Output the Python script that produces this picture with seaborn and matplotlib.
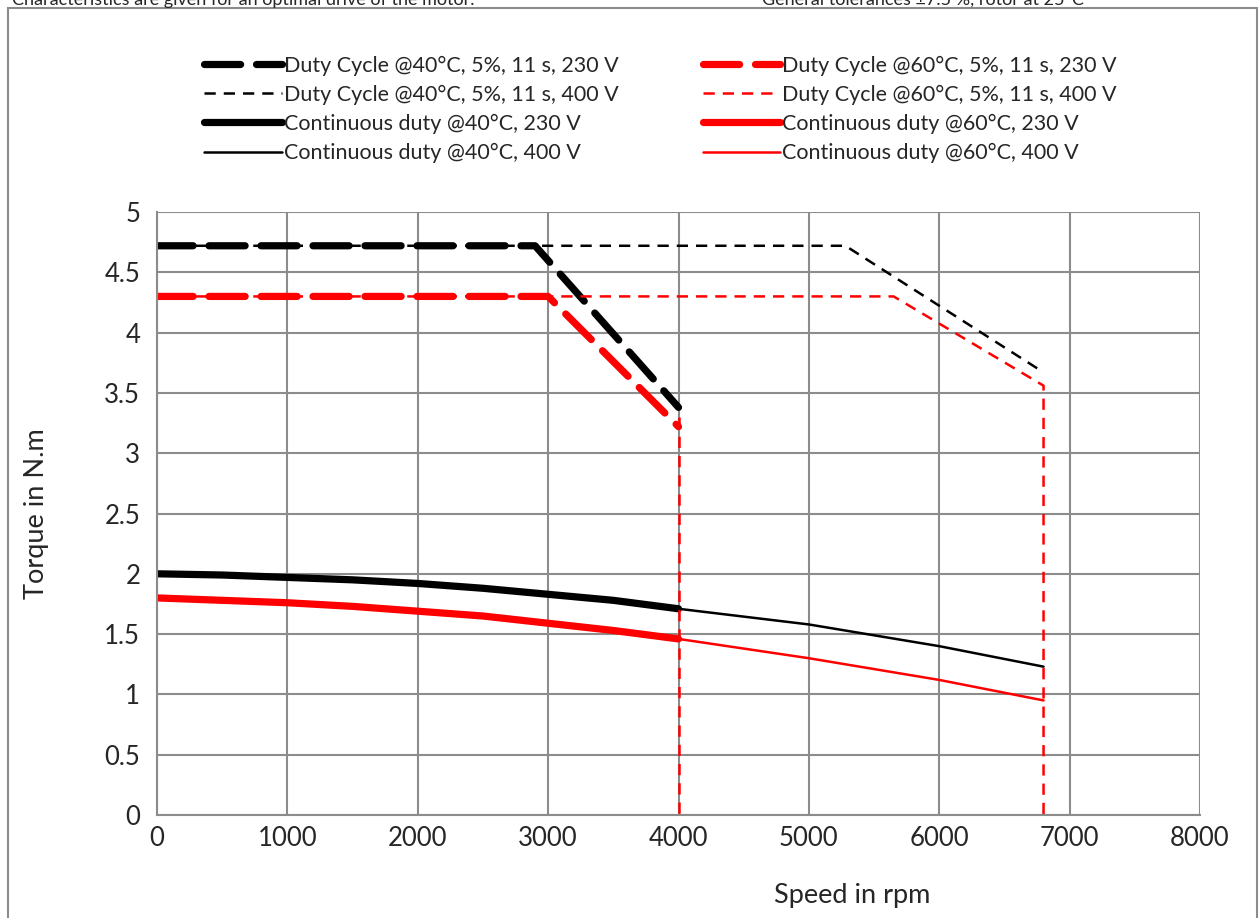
import matplotlib
matplotlib.use('Agg')
import matplotlib.pyplot as plt
from matplotlib.patches import Rectangle
import pandas as pd
import seaborn as sns

# duty cycle curves (speed rpm, torque N.m)
duty40_230_x = [0, 2900, 4000]
duty40_230_y = [4.72, 4.72, 3.38]
duty40_400_x = [0, 5280, 6800]
duty40_400_y = [4.72, 4.72, 3.67]
duty60_230_x = [0, 3000, 4000]
duty60_230_y = [4.30, 4.30, 3.22]
duty60_400_x = [0, 5650, 6800, 6800]
duty60_400_y = [4.30, 4.30, 3.56, 0]
limit230_x = [4000, 4000]
limit230_y = [3.30, 0]

# continuous duty curves
cont230_x = [0, 500, 1000, 1500, 2000, 2500, 3000, 3500, 4000]
cont40_230_y = [2.00, 1.99, 1.97, 1.95, 1.92, 1.88, 1.83, 1.78, 1.71]
cont60_230_y = [1.80, 1.78, 1.76, 1.73, 1.69, 1.65, 1.59, 1.53, 1.46]
cont400_x = [4000, 5000, 6000, 6800]
cont40_400_y = [1.71, 1.58, 1.40, 1.23]
cont60_400_y = [1.46, 1.30, 1.12, 0.95]

x_ticks = [0, 1000, 2000, 3000, 4000, 5000, 6000, 7000, 8000]
y_ticks = [0, 0.5, 1, 1.5, 2, 2.5, 3, 3.5, 4, 4.5, 5]

sns.set_style('white')
plt.rcParams['font.family'] = ['Lato', 'DejaVu Sans']

fig = plt.figure(figsize=(12.59, 9.18), dpi=100)
ax = fig.add_axes([157 / 1259, 103 / 918, 1043 / 1259, 603 / 918])

thick_dash = dict(lw=5.2, dashes=(5, 2.2), dash_capstyle='round')
thin_dash = dict(lw=1.8, dashes=(4.5, 3.2))
thick = dict(lw=5.2, solid_capstyle='round')
thin = dict(lw=1.8)

series = [
    (duty40_230_x, duty40_230_y, 'black', thick_dash, 'Duty Cycle @40°C, 5%, 11 s, 230 V'),
    (duty40_400_x, duty40_400_y, 'black', thin_dash, 'Duty Cycle @40°C, 5%, 11 s, 400 V'),
    (cont230_x, cont40_230_y, 'black', thick, 'Continuous duty @40°C, 230 V'),
    (cont400_x, cont40_400_y, 'black', thin, 'Continuous duty @40°C, 400 V'),
    (duty60_230_x, duty60_230_y, 'red', thick_dash, 'Duty Cycle @60°C, 5%, 11 s, 230 V'),
    (duty60_400_x, duty60_400_y, 'red', thin_dash, 'Duty Cycle @60°C, 5%, 11 s, 400 V'),
    (cont230_x, cont60_230_y, 'red', thick, 'Continuous duty @60°C, 230 V'),
    (cont400_x, cont60_400_y, 'red', thin, 'Continuous duty @60°C, 400 V'),
]

handles = []
for xs, ys, color, style, label in series:
    df = pd.DataFrame({'x': xs, 'y': ys})
    sns.lineplot(data=df, x='x', y='y', sort=False, estimator=None,
                 color=color, ax=ax, **style)
    handles.append((ax.lines[-1], label))

# vertical speed limit at 4000 rpm
sns.lineplot(x=limit230_x, y=limit230_y, sort=False, estimator=None,
             color='red', ax=ax, **thin_dash)

ax.set_xlim(0, 8000)
ax.set_ylim(0, 5)
ax.set_xticks(x_ticks)
ax.set_yticks(y_ticks)
ax.set_yticklabels([f'{t:g}' for t in y_ticks])
ax.grid(True, color='#8c8c8c', lw=1.5)
for side in ['top', 'right']:
    ax.spines[side].set_visible(False)
for side in ['left', 'bottom']:
    ax.spines[side].set_color('#8c8c8c')
    ax.spines[side].set_linewidth(1.5)
ax.tick_params(axis='both', labelsize=18.5, length=7, width=1.5,
               color='#8c8c8c', direction='out', pad=5)
ax.tick_params(axis='x', pad=1)
ax.set_xlabel('Speed in rpm', fontsize=19.5)
ax.set_ylabel('Torque in N.m', fontsize=19.5)
ax.xaxis.set_label_coords(0.667, -0.113)
ax.yaxis.set_label_coords(-0.104, 0.5)

fig.legend([h for h, _ in handles], [l for _, l in handles],
           ncol=2, frameon=False, loc='upper left',
           bbox_to_anchor=(185 / 1259, 1 - 36 / 918),
           handlelength=3.6, handletextpad=0.1,
           columnspacing=3.9, labelspacing=0.42,
           prop={'family': ['Lato', 'DejaVu Sans'], 'size': 15.5})

# outer frame and header notes (cut off at the top edge)
fig.patches.append(Rectangle((8 / 1259, -0.01), 1249 / 1259, 1 - 8 / 918 + 0.01,
                             transform=fig.transFigure, fill=False,
                             edgecolor='#8c8c8c', lw=1.5))
fig.text(12 / 1259, 1.0, 'Characteristics are given for an optimal drive of the motor.',
         fontsize=13, va='center')
fig.text(762 / 1259, 1.0, 'General tolerances ±7.5 %, rotor at 25°C',
         fontsize=13, va='center')

fig.savefig('out.png', dpi=100)
